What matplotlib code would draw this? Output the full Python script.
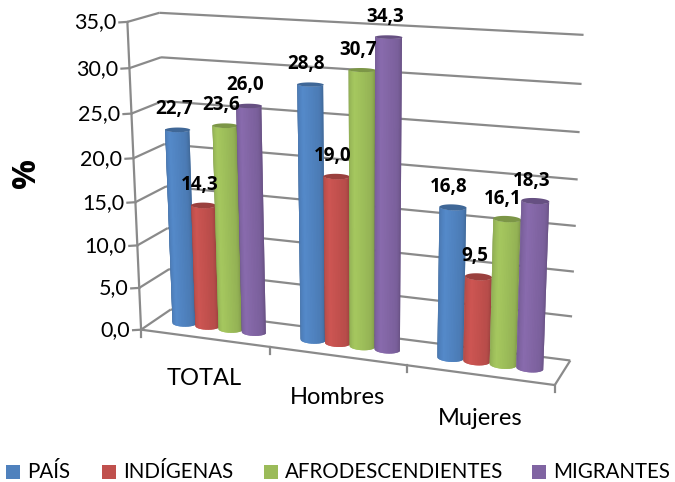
import numpy as np
import matplotlib
matplotlib.use('Agg')
import matplotlib.pyplot as plt
from matplotlib.colors import to_rgb
from matplotlib.patches import Polygon, Rectangle

# Data
categories = ['TOTAL', 'Hombres', 'Mujeres']
series_names = ['PAÍS', 'INDÍGENAS', 'AFRODESCENDIENTES', 'MIGRANTES']
pais = [22.7, 28.8, 16.8]
indigenas = [14.3, 19.0, 9.5]
afro = [23.6, 30.7, 16.1]
migrantes = [26.0, 34.3, 18.3]
y_ticks = [0, 5, 10, 15, 20, 25, 30, 35]

series_values = [pais, indigenas, afro, migrantes]
colors = ['#4F81BD', '#C0504D', '#9BBB59', '#8064A2']
GRID = '#8a8a8a'

plt.rcParams['font.family'] = ['Lato', 'DejaVu Sans']

# Camera: fit a projection (category, depth, value) -> image from the box corners
box_3d = [(0, 0, 0), (1, 0, 0), (2, 0, 0), (3, 0, 0), (0, 0, 35), (0, 1, 35), (3, 1, 35),
          (0, 1, 0), (3, 1, 0), (0, 0, 30), (0, 1, 30), (3, 1, 30), (3, 1, 25)]
box_2d = [(140, 329), (270, 347), (407, 366), (555, 385), (128, 22), (159, 13), (583, 35),
          (172, 310), (570, 360), (130, 68), (160, 57), (582, 84), (580, 132)]


def fit_camera(pts3, pts2):
    rows = []
    for (x, z, v), (u, w) in zip(pts3, pts2):
        rows.append([x, z, v, 1, 0, 0, 0, 0, -u * x, -u * z, -u * v, -u])
        rows.append([0, 0, 0, 0, x, z, v, 1, -w * x, -w * z, -w * v, -w])
    return np.linalg.svd(np.array(rows, float))[2][-1].reshape(3, 4)


CAM = fit_camera(box_3d, box_2d)


def project(x, z, v):
    x, z, v = np.broadcast_arrays(x, z, v)
    p = CAM @ np.vstack([x.ravel(), z.ravel(), v.ravel(), np.ones(x.size)])
    return p[0] / p[2], p[1] / p[2]


def line3d(ax, a, b, lw=1.6, zorder=1):
    ua, wa = project(*a)
    ub, wb = project(*b)
    ax.plot([ua[0], ub[0]], [wa[0], wb[0]], color=GRID, lw=lw, zorder=zorder, solid_capstyle='butt')


def shade(rgb, t):
    f = np.interp(t, [0, 0.12, 0.4, 0.85, 1], [0.78, 0.92, 1.07, 0.95, 0.82])
    return tuple(np.clip(np.array(rgb) * f, 0, 1))


def cylinder(ax, cx, value, color, zorder):
    rx, rz = 0.09, 0.16
    cz = 0.5
    rgb = to_rgb(color)
    th = np.linspace(np.pi, 2 * np.pi, 25)
    bu, bw = project(cx + rx * np.cos(th), cz + rz * np.sin(th), 0)
    tu, tw = project(cx + rx * np.cos(th), cz + rz * np.sin(th), value)
    # each facet reaches a bit under the next one so no seams show
    for i in range(len(th) - 1):
        j = min(i + 3, len(th))
        verts = np.vstack([np.column_stack([bu[i:j], bw[i:j]]), np.column_stack([tu[i:j], tw[i:j]])[::-1]])
        ax.add_patch(Polygon(verts, closed=True, facecolor=shade(rgb, i / (len(th) - 2)),
                             edgecolor='none', zorder=zorder, snap=False))
    circ = np.linspace(0, 2 * np.pi, 60)
    cu, cw = project(cx + rx * np.cos(circ), cz + rz * np.sin(circ), value)
    ax.add_patch(Polygon(np.column_stack([cu, cw]), closed=True, facecolor=tuple(np.array(rgb) * 0.8),
                         edgecolor='none', zorder=zorder + 0.1, snap=False))


fig = plt.figure(figsize=(6.75, 4.82), dpi=100)
ax = fig.add_axes([0, 0, 1, 1])
ax.set_xlim(0, 675)
ax.set_ylim(482, 0)
ax.axis('off')

# Walls, floor, ticks
for v in y_ticks:
    line3d(ax, (0, 0, v), (0, 1, v))
    line3d(ax, (0, 1, v), (3, 1, v))
    u, w = project(0, 0, v)
    ax.plot([u[0] - 8, u[0]], [w[0] + 0.5, w[0]], color=GRID, lw=1.6, zorder=1)
    ax.text(u[0] - 11, w[0] + 0.5, f'{v:.1f}'.replace('.', ','), ha='right', va='center', fontsize=15.5,
            color='black')
line3d(ax, (0, 0, 0), (0, 0, 35))
line3d(ax, (0, 0, 0), (3, 0, 0), zorder=1.5)
line3d(ax, (3, 0, 0), (3, 1, 0), zorder=1.5)
for i in range(len(categories) + 1):
    u, w = project(i, 0, 0)
    ax.plot([u[0], u[0]], [w[0], w[0] + 7], color=GRID, lw=1.6, zorder=1)

# Cylinders and value labels
offsets = [0.23 + 0.183 * k for k in range(len(series_values))]
for c in range(len(categories)):
    for s, vals in enumerate(series_values):
        cx = c + offsets[s]
        cylinder(ax, cx, vals[c], colors[s], zorder=3 + s + 4 * c)
        u, w = project(cx, 0.5, vals[c])
        ax.text(u[0] - 4, w[0] - 20.5, f'{vals[c]:.1f}'.replace('.', ','), ha='center', va='center',
                fontsize=13.5, fontweight='bold', family=['Open Sans', 'DejaVu Sans'], color='black', zorder=30)

# Category labels
for i, name in enumerate(categories):
    u, w = project(i + 0.5, 0, 0)
    ax.text(u[0], w[0] + 40 + 1.5 * i, name, ha='center', va='center', fontsize=17, color='black')

ax.text(27, 173, '%', rotation=90, ha='center', va='center', fontsize=24, fontweight='bold',
        family=['Open Sans', 'DejaVu Sans'], color='black')

# Legend
legend_x = [6, 102, 264, 532]
for x0, name, col in zip(legend_x, series_names, colors):
    ax.add_patch(Rectangle((x0, 465), 14, 14, facecolor=col, edgecolor='none'))
    ax.text(x0 + 21, 472, name, ha='left', va='center', fontsize=14.8, color='black')

fig.savefig('out.png', dpi=100)
